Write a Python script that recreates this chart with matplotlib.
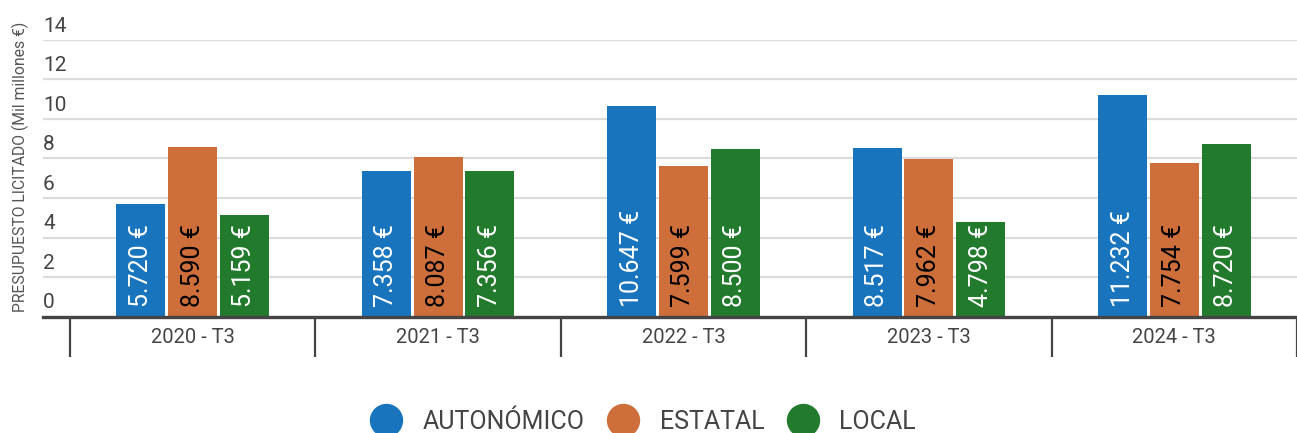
#!/usr/bin/env python3
# -*- coding: utf-8 -*-
"""
Grouped bar chart: presupuesto licitado por administración.
"""

import matplotlib
matplotlib.use('Agg')
import matplotlib.pyplot
import numpy

categories = ['2020 - T3', '2021 - T3', '2022 - T3', '2023 - T3', '2024 - T3']
series_names = ['AUTONÓMICO', 'ESTATAL', 'LOCAL']
autonomico = [5.720, 7.358, 10.647, 8.517, 11.232]
estatal = [8.590, 8.087, 7.599, 7.962, 7.754]
local = [5.159, 7.356, 8.500, 4.798, 8.720]
y_ticks = [0, 2, 4, 6, 8, 10, 12, 14]
y_label = 'PRESUPUESTO LICITADO (Mil millones €)'

colors = ['#1874bd', '#cd6e3b', '#227a2c']
label_colors = ['white', 'black', 'white']


def fmt(value):
    return '{:.3f} €'.format(value)


def main():
    matplotlib.pyplot.rcParams['font.family'] = ['Roboto', 'DejaVu Sans']
    W, H = 1297, 433
    figure = matplotlib.pyplot.figure(figsize=(W / 100, H / 100), dpi=100)
    ax = figure.add_axes([43 / W, 1 - 316.5 / H, (W - 43) / W, (316.5 - 40) / H])

    x = numpy.arange(len(categories))
    step = 0.211
    width = 0.2
    for i, values in enumerate([autonomico, estatal, local]):
        pos = x + (i - 1) * step
        ax.bar(pos, values, width=width, color=colors[i], zorder=3,
               label=series_names[i])
        for px, v in zip(pos, values):
            ax.annotate(fmt(v), xy=(px, 0), xytext=(0, 7),
                        textcoords='offset points', rotation=90,
                        ha='center', va='bottom', fontsize=18,
                        color=label_colors[i], zorder=4)

    ax.set_xlim(-0.5 - 27 / 246, 4.5 - 3 / 246)
    ax.set_ylim(0, 14)
    ax.set_yticks(y_ticks)
    ax.set_yticklabels([])
    ax.tick_params(axis='y', length=0)
    ax.grid(axis='y', color='#dcdcdc', linewidth=1.6, zorder=0)
    for t in y_ticks:
        ax.annotate(str(t), xy=(0, t), xycoords=('axes fraction', 'data'),
                    xytext=(0, 3), textcoords='offset points',
                    ha='left', va='bottom', fontsize=15, color='#444444')

    ax.set_xticks(x)
    ax.set_xticklabels(categories, fontsize=14.5, color='#444444')
    ax.tick_params(axis='x', which='major', length=0, pad=8)
    ax.set_xticks(numpy.arange(-0.5, len(categories) + 0.5, 1), minor=True)
    ax.tick_params(axis='x', which='minor', length=29, width=1.6,
                   color='#444444', direction='out')

    for side in ['top', 'right', 'left']:
        ax.spines[side].set_visible(False)
    ax.spines['bottom'].set_color('#444444')
    ax.spines['bottom'].set_linewidth(2.4)
    ax.spines['bottom'].set_zorder(5)

    figure.text(20 / W, 1 - 167 / H, y_label, rotation=90, ha='center',
                va='center', fontsize=11.3, color='#555555')

    handles = [matplotlib.lines.Line2D([], [], marker='o', linestyle='',
                                       markersize=23, color=c) for c in colors]
    figure.legend(handles, series_names, loc='center',
                  bbox_to_anchor=(643 / W, 1 - 422 / H), ncol=3,
                  frameon=False, fontsize=18, handlelength=1.3,
                  handletextpad=0.8, columnspacing=0.9,
                  labelcolor='#444444', borderpad=0)

    figure.savefig('out.png', dpi=100)
    matplotlib.pyplot.close()


if __name__ == '__main__':
    main()
